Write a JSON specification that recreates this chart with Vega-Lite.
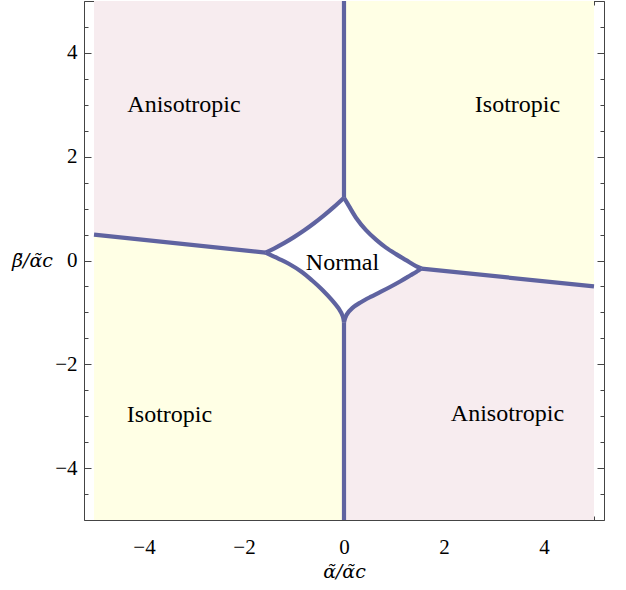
{
  "$schema": "https://vega.github.io/schema/vega-lite/v6.json",
  "width": 520,
  "height": 519,
  "autosize": {"type": "none"},
  "padding": {"left": 84, "top": 1, "right": 22, "bottom": 70},
  "background": "white",
  "config": {
    "view": {"stroke": "#444", "strokeWidth": 1},
    "font": "Liberation Serif",
    "axis": {
      "domain": false,
      "grid": false,
      "labelFont": "Liberation Serif",
      "labelFontSize": 21,
      "labelColor": "#000",
      "tickColor": "#444",
      "tickWidth": 1,
      "titleFont": "DejaVu Serif",
      "titleFontWeight": "normal",
      "titleFontSize": 19,
      "titleColor": "#000"
    }
  },
  "datasets": {
    "regions": [
      {"region": "TL", "x": -5, "lo": 0.5, "hi": 5},
      {"region": "TL", "x": -1.57, "lo": 0.152, "hi": 5},
      {"region": "TL", "x": -1.4, "lo": 0.231, "hi": 5},
      {"region": "TL", "x": -1.2, "lo": 0.334, "hi": 5},
      {"region": "TL", "x": -1.0, "lo": 0.45, "hi": 5},
      {"region": "TL", "x": -0.8, "lo": 0.577, "hi": 5},
      {"region": "TL", "x": -0.6, "lo": 0.717, "hi": 5},
      {"region": "TL", "x": -0.4, "lo": 0.869, "hi": 5},
      {"region": "TL", "x": -0.2, "lo": 1.033, "hi": 5},
      {"region": "TL", "x": 0, "lo": 1.21, "hi": 5},
      {"region": "TR", "x": 0, "lo": 1.21, "hi": 5},
      {"region": "TR", "x": 0.1, "lo": 1.047, "hi": 5},
      {"region": "TR", "x": 0.24, "lo": 0.825, "hi": 5},
      {"region": "TR", "x": 0.44, "lo": 0.585, "hi": 5},
      {"region": "TR", "x": 0.64, "lo": 0.402, "hi": 5},
      {"region": "TR", "x": 0.84, "lo": 0.248, "hi": 5},
      {"region": "TR", "x": 1.04, "lo": 0.123, "hi": 5},
      {"region": "TR", "x": 1.24, "lo": 0.008, "hi": 5},
      {"region": "TR", "x": 1.44, "lo": -0.107, "hi": 5},
      {"region": "TR", "x": 1.55, "lo": -0.155, "hi": 5},
      {"region": "TR", "x": 5, "lo": -0.5, "hi": 5},
      {"region": "BL", "x": -5, "lo": -5, "hi": 0.5},
      {"region": "BL", "x": -1.57, "lo": -5, "hi": 0.152},
      {"region": "BL", "x": -1.304, "lo": -5, "hi": 0.033},
      {"region": "BL", "x": -1.104, "lo": -5, "hi": -0.063},
      {"region": "BL", "x": -0.836, "lo": -5, "hi": -0.225},
      {"region": "BL", "x": -0.636, "lo": -5, "hi": -0.385},
      {"region": "BL", "x": -0.436, "lo": -5, "hi": -0.563},
      {"region": "BL", "x": -0.236, "lo": -5, "hi": -0.769},
      {"region": "BL", "x": -0.104, "lo": -5, "hi": -0.929},
      {"region": "BL", "x": -0.024, "lo": -5, "hi": -1.077},
      {"region": "BL", "x": 0, "lo": -5, "hi": -1.19},
      {"region": "BR", "x": 0, "lo": -5, "hi": -1.19},
      {"region": "BR", "x": 0.05, "lo": -5, "hi": -1.048},
      {"region": "BR", "x": 0.17, "lo": -5, "hi": -0.913},
      {"region": "BR", "x": 0.33, "lo": -5, "hi": -0.808},
      {"region": "BR", "x": 0.53, "lo": -5, "hi": -0.702},
      {"region": "BR", "x": 0.73, "lo": -5, "hi": -0.606},
      {"region": "BR", "x": 0.93, "lo": -5, "hi": -0.506},
      {"region": "BR", "x": 1.13, "lo": -5, "hi": -0.4},
      {"region": "BR", "x": 1.33, "lo": -5, "hi": -0.285},
      {"region": "BR", "x": 1.49, "lo": -5, "hi": -0.192},
      {"region": "BR", "x": 1.55, "lo": -5, "hi": -0.155},
      {"region": "BR", "x": 5, "lo": -5, "hi": -0.5}
    ],
    "bounds": [
      {"seg": "vt", "ord": 1, "x": 0, "y": 5},
      {"seg": "vt", "ord": 2, "x": 0, "y": 1.21},
      {"seg": "vb", "ord": 1, "x": 0, "y": -1.19},
      {"seg": "vb", "ord": 2, "x": 0, "y": -5},
      {"seg": "ll", "ord": 1, "x": -5, "y": 0.5},
      {"seg": "ll", "ord": 2, "x": -1.57, "y": 0.152},
      {"seg": "rl", "ord": 1, "x": 1.55, "y": -0.155},
      {"seg": "rl", "ord": 2, "x": 5, "y": -0.5},
      {"seg": "ul", "ord": 1, "x": 0, "y": 1.21},
      {"seg": "ul", "ord": 2, "x": -0.2, "y": 1.033},
      {"seg": "ul", "ord": 3, "x": -0.4, "y": 0.869},
      {"seg": "ul", "ord": 4, "x": -0.6, "y": 0.717},
      {"seg": "ul", "ord": 5, "x": -0.8, "y": 0.577},
      {"seg": "ul", "ord": 6, "x": -1.0, "y": 0.45},
      {"seg": "ul", "ord": 7, "x": -1.2, "y": 0.334},
      {"seg": "ul", "ord": 8, "x": -1.4, "y": 0.231},
      {"seg": "ul", "ord": 9, "x": -1.57, "y": 0.152},
      {"seg": "lo", "ord": 1, "x": -1.57, "y": 0.152},
      {"seg": "lo", "ord": 2, "x": -1.304, "y": 0.033},
      {"seg": "lo", "ord": 3, "x": -1.104, "y": -0.063},
      {"seg": "lo", "ord": 4, "x": -0.836, "y": -0.225},
      {"seg": "lo", "ord": 5, "x": -0.636, "y": -0.385},
      {"seg": "lo", "ord": 6, "x": -0.436, "y": -0.563},
      {"seg": "lo", "ord": 7, "x": -0.236, "y": -0.769},
      {"seg": "lo", "ord": 8, "x": -0.104, "y": -0.929},
      {"seg": "lo", "ord": 9, "x": -0.024, "y": -1.077},
      {"seg": "lo", "ord": 10, "x": 0, "y": -1.19},
      {"seg": "lr", "ord": 1, "x": 0, "y": -1.19},
      {"seg": "lr", "ord": 2, "x": 0.05, "y": -1.048},
      {"seg": "lr", "ord": 3, "x": 0.17, "y": -0.913},
      {"seg": "lr", "ord": 4, "x": 0.33, "y": -0.808},
      {"seg": "lr", "ord": 5, "x": 0.53, "y": -0.702},
      {"seg": "lr", "ord": 6, "x": 0.73, "y": -0.606},
      {"seg": "lr", "ord": 7, "x": 0.93, "y": -0.506},
      {"seg": "lr", "ord": 8, "x": 1.13, "y": -0.4},
      {"seg": "lr", "ord": 9, "x": 1.33, "y": -0.285},
      {"seg": "lr", "ord": 10, "x": 1.49, "y": -0.192},
      {"seg": "lr", "ord": 11, "x": 1.55, "y": -0.155},
      {"seg": "ur", "ord": 1, "x": 1.55, "y": -0.155},
      {"seg": "ur", "ord": 2, "x": 1.44, "y": -0.107},
      {"seg": "ur", "ord": 3, "x": 1.24, "y": 0.008},
      {"seg": "ur", "ord": 4, "x": 1.04, "y": 0.123},
      {"seg": "ur", "ord": 5, "x": 0.84, "y": 0.248},
      {"seg": "ur", "ord": 6, "x": 0.64, "y": 0.402},
      {"seg": "ur", "ord": 7, "x": 0.44, "y": 0.585},
      {"seg": "ur", "ord": 8, "x": 0.24, "y": 0.825},
      {"seg": "ur", "ord": 9, "x": 0.1, "y": 1.047},
      {"seg": "ur", "ord": 10, "x": 0, "y": 1.21}
    ],
    "labels": [
      {"label": "Anisotropic", "x": -3.2, "y": 3.0},
      {"label": "Isotropic", "x": 3.47, "y": 3.0},
      {"label": "Isotropic", "x": -3.49, "y": -2.98},
      {"label": "Anisotropic", "x": 3.27, "y": -2.96},
      {"label": "Normal", "x": -0.03, "y": -0.04}
    ]
  },
  "resolve": {"axis": {"x": "independent", "y": "independent"}},
  "layer": [
    {
      "data": {"name": "regions"},
      "mark": {"type": "area", "opacity": 1, "strokeWidth": 0},
      "encoding": {
        "x": {
          "field": "x", "type": "quantitative",
          "scale": {"domain": [-5.2, 5.2], "nice": false, "zero": false},
          "axis": {
            "orient": "bottom",
            "values": [-5, -4.5, -4, -3.5, -3, -2.5, -2, -1.5, -1, -0.5, 0, 0.5, 1, 1.5, 2, 2.5, 3, 3.5, 4, 4.5, 5],
            "format": "~g",
            "labelExpr": "datum.value % 2 === 0 ? datum.label : ''",
            "tickSize": {"condition": {"test": "datum.value % 2 === 0", "value": -7}, "value": -4},
            "labelPadding": 23,
            "labelBaseline": "top",
            "labelFlush": false,
            "labelOverlap": false,
            "title": "\u03b1\u0303/\u03b1\u0303c",
            "titleFontStyle": "italic",
            "titleBaseline": "alphabetic",
            "titleY": 57
          }
        },
        "y": {
          "field": "lo", "type": "quantitative",
          "scale": {"domain": [-5, 5], "nice": false, "zero": false},
          "axis": {
            "orient": "left",
            "values": [-5, -4.5, -4, -3.5, -3, -2.5, -2, -1.5, -1, -0.5, 0, 0.5, 1, 1.5, 2, 2.5, 3, 3.5, 4, 4.5, 5],
            "format": "~g",
            "labelExpr": "datum.value % 2 === 0 ? datum.label : ''",
            "tickSize": {"condition": {"test": "datum.value % 2 === 0", "value": -7}, "value": -4},
            "labelPadding": 14,
            "labelFlush": false,
            "labelOverlap": false,
            "title": "\u03b2\u0303/\u03b1\u0303c",
            "titleFontStyle": "italic",
            "titleAngle": 0,
            "titleAlign": "center",
            "titleBaseline": "middle",
            "titleX": -52,
            "titleY": 259
          }
        },
        "y2": {"field": "hi"},
        "color": {
          "field": "region", "type": "nominal",
          "scale": {"domain": ["TL", "TR", "BL", "BR"], "range": ["#F7ECEF", "#FFFFE5", "#FFFFE5", "#F7ECEF"]},
          "legend": null
        }
      }
    },
    {
      "data": {"name": "bounds"},
      "mark": {"type": "line", "color": "#5F63A0", "strokeWidth": 4.2, "strokeJoin": "round", "strokeCap": "butt", "interpolate": "catmull-rom"},
      "encoding": {
        "x": {
          "field": "x", "type": "quantitative",
          "axis": {
            "orient": "top",
            "values": [-5, -4.5, -4, -3.5, -3, -2.5, -2, -1.5, -1, -0.5, 0, 0.5, 1, 1.5, 2, 2.5, 3, 3.5, 4, 4.5, 5],
            "labels": false,
            "tickSize": {"condition": {"test": "datum.value % 2 === 0", "value": -7}, "value": -4},
            "title": null
          }
        },
        "y": {
          "field": "y", "type": "quantitative",
          "axis": {
            "orient": "right",
            "values": [-5, -4.5, -4, -3.5, -3, -2.5, -2, -1.5, -1, -0.5, 0, 0.5, 1, 1.5, 2, 2.5, 3, 3.5, 4, 4.5, 5],
            "labels": false,
            "tickSize": {"condition": {"test": "datum.value % 2 === 0", "value": -7}, "value": -4},
            "title": null
          }
        },
        "detail": {"field": "seg", "type": "nominal"},
        "order": {"field": "ord", "type": "quantitative"}
      }
    },
    {
      "data": {"name": "labels"},
      "mark": {"type": "text", "font": "Liberation Serif", "fontSize": 24, "color": "#000", "align": "center", "baseline": "middle"},
      "encoding": {
        "x": {"field": "x", "type": "quantitative", "axis": null},
        "y": {"field": "y", "type": "quantitative", "axis": null},
        "text": {"field": "label", "type": "nominal"}
      }
    }
  ]
}
